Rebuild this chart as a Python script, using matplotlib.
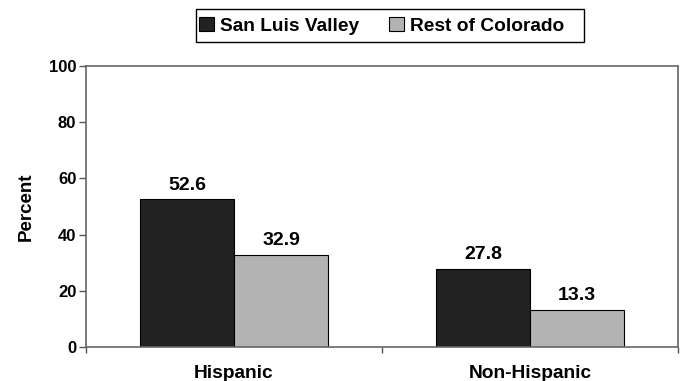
import matplotlib
matplotlib.use("Agg")
import matplotlib.pyplot as plt
from matplotlib.patches import Rectangle
import numpy as np

categories = ["Hispanic", "Non-Hispanic"]
series_names = ["San Luis Valley", "Rest of Colorado"]
san_luis_valley = [52.6, 27.8]
rest_of_colorado = [32.9, 13.3]
y_ticks = [0, 20, 40, 60, 80, 100]

plt.rcParams["font.family"] = ["Liberation Sans", "DejaVu Sans"]
plt.rcParams["font.weight"] = "bold"

W, H = 682, 381
fig = plt.figure(figsize=(W / 100, H / 100), dpi=100)
ax = fig.add_axes([86 / W, 1 - 347 / H, (678 - 86) / W, (347 - 66) / H])

x = np.arange(len(categories))
w = 0.318
b1 = ax.bar(x - w / 2, san_luis_valley, w, color="#222222", edgecolor="black",
            linewidth=0.8, label=series_names[0])
b2 = ax.bar(x + w / 2, rest_of_colorado, w, color="#b3b3b3", edgecolor="black",
            linewidth=0.8, label=series_names[1])

for bars, vals in ((b1, san_luis_valley), (b2, rest_of_colorado)):
    for rect, v in zip(bars, vals):
        ax.annotate(f"{v:.1f}", (rect.get_x() + rect.get_width() / 2, v),
                    xytext=(0, 4), textcoords="offset points",
                    ha="center", va="bottom", fontsize=14, fontweight="bold")

ax.set_xlim(-0.5, 1.5)
ax.set_ylim(0, 100)
ax.set_yticks(y_ticks)
ax.set_yticklabels([str(t) for t in y_ticks], fontsize=12, fontweight="bold")
ax.set_xticks(x)
ax.set_xticklabels(categories, fontsize=13.8, fontweight="bold")
ax.tick_params(axis="x", which="major", length=0, pad=13)
ax.set_xticks([-0.5, 0.5, 1.5], minor=True)
ax.tick_params(axis="x", which="minor", length=4, width=1, color="#555555")
ax.tick_params(axis="y", length=5, width=1, color="#555555", pad=2)
for s in ax.spines.values():
    s.set_color("#666666")
    s.set_linewidth(1.2)

ax.set_ylabel("Percent", fontsize=13.5, fontweight="bold", labelpad=10)

# legend entries without frame; box drawn separately
fs = 13.8
em = fs * 100 / 72
leg = fig.legend(loc="center", bbox_to_anchor=(382 / W, 1 - 26 / H), ncol=2,
                 frameon=False, handlelength=15 / em, handleheight=13 / em,
                 columnspacing=30 / em, handletextpad=6 / em, borderpad=0.2,
                 prop={"weight": "bold", "size": fs})
fig.patches.append(Rectangle((196 / W, 1 - 42 / H), (584 - 196) / W, 33 / H,
                             transform=fig.transFigure, fill=False,
                             edgecolor="black", linewidth=1.0))

fig.savefig("out.png", dpi=100)
